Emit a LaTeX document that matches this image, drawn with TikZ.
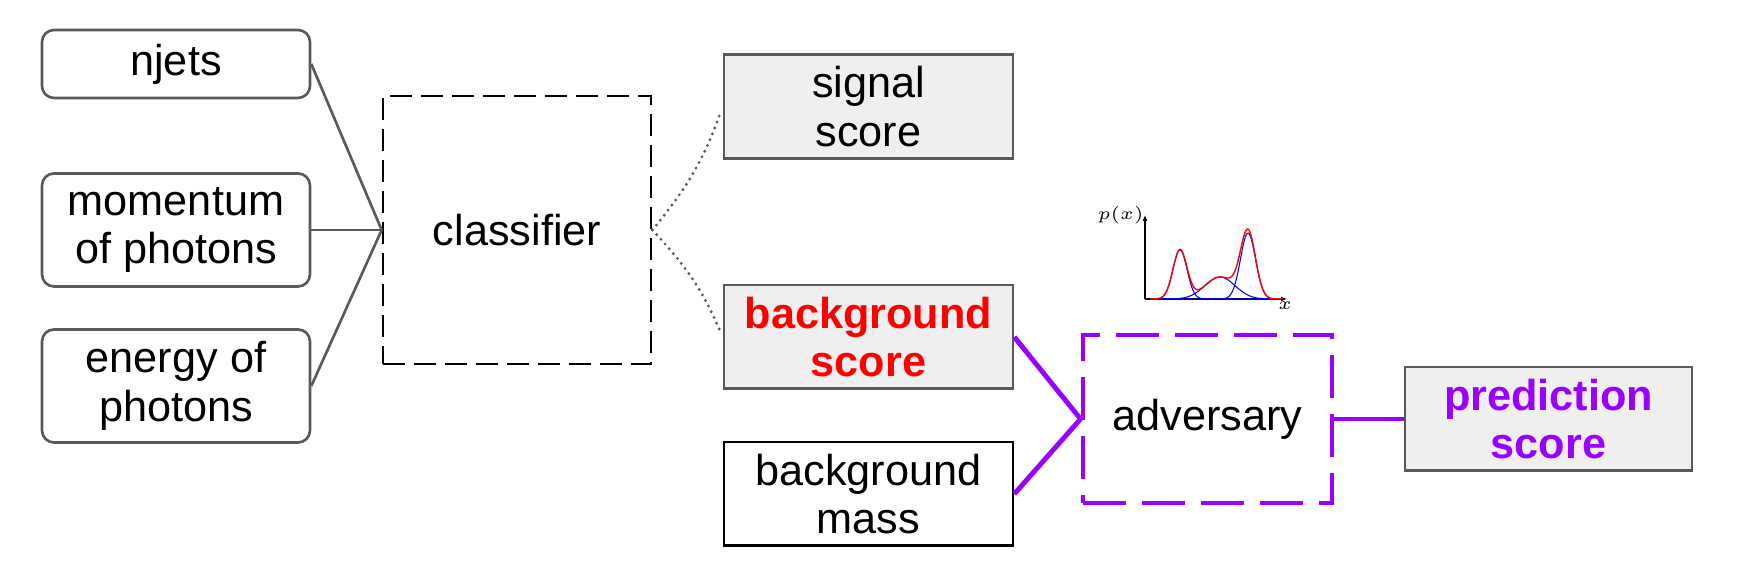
\documentclass[tikz,border=0pt]{standalone}
\usepackage{fontspec}
\setmainfont{Liberation Sans}
\usepackage{tikz}
\usepackage{xcolor}
\usetikzlibrary{positioning,arrows.meta,shapes}
\definecolor{advviolet}{HTML}{9900FF}
\definecolor{boxgray}{HTML}{EFEFEF}
\definecolor{linegray}{HTML}{595959}
\definecolor{mixblue}{HTML}{0000FF}
\definecolor{mixred}{HTML}{FF0000}
\tikzset{
    inputbox/.style={draw=linegray, line width=0.75pt, rounded corners=0.12cm, minimum width=2.68cm, align=center},
    scorebox/.style={draw=linegray, fill=boxgray, line width=0.75pt, minimum width=2.89cm, minimum height=1.01cm, align=center},
    massbox/.style={draw=black, line width=0.75pt, minimum width=2.89cm, minimum height=1.01cm, align=center},
    featline/.style={draw=linegray, line width=0.75pt},
    outline/.style={draw=linegray, line width=0.9pt, line cap=round, dash pattern=on 0pt off 1.8pt, shorten >=0.07cm},
    advline/.style={draw=advviolet, line width=1.4pt}
}
\begin{document}
\begin{tikzpicture}[font=\fontsize{12.3}{13.8}\selectfont]
    \useasboundingbox (0,0) rectangle (17.45,5.70);

    % Input features
    \node[inputbox, minimum height=0.68cm] (njets) at (1.76,5.06) {njets};
    \node[inputbox, minimum height=1.13cm] (mom) at (1.76,3.40) {momentum\\of photons};
    \node[inputbox, minimum height=1.13cm] (energy) at (1.76,1.84) {energy of\\photons};

    % Classifier
    \node[draw, line width=0.75pt, dash pattern=on 0.22cm off 0.09cm, minimum width=2.68cm, minimum height=2.68cm] (clf) at (5.17,3.40) {classifier};

    % Outputs of the classifier
    \node[scorebox] (sig) at (8.685,4.635) {signal\\score};
    \node[scorebox, text=red, font=\fontsize{12.3}{13.8}\selectfont\bfseries] (bkg) at (8.685,2.33) {background\\score};
    \node[massbox] (mass) at (8.685,0.76) {background\\mass};

    % Adversary
    \node[draw=advviolet, line width=1.4pt, dash pattern=on 0.43cm off 0.16cm, minimum width=2.49cm, minimum height=1.68cm] (adv) at (12.075,1.51) {adversary};
    \node[scorebox, text=advviolet, font=\fontsize{12.3}{13.8}\selectfont\bfseries, minimum width=2.87cm, minimum height=1.02cm] (pred) at (15.485,1.51) {prediction\\score};

    % Connections
    \draw[featline] (njets.east) -- (clf.west);
    \draw[featline] (mom.east) -- (clf.west);
    \draw[featline] (energy.east) -- (clf.west);
    \draw[outline] (clf.east) to[bend right=10] (sig.west);
    \draw[outline] (clf.east) to[bend left=10] (bkg.west);
    \draw[advline] (bkg.east) -- (adv.west);
    \draw[advline] (mass.east) -- (adv.west);
    \draw[advline] (adv.east) -- (pred.west);

    % Mixture density sketch
    \begin{scope}[shift={(11.45,2.71)}]
        \draw[line width=0.4pt, -{Latex[length=0.6mm,width=0.5mm]}] (0,0) -- (0,0.84);
        \draw[line width=0.4pt, -{Latex[length=0.6mm,width=0.5mm]}] (0,0) -- (1.42,0);
        \node[left, inner sep=0.2pt, font=\fontsize{3}{4}\selectfont] at (0,0.84) {$p(x)$};
        \node[below, inner sep=0.5pt, font=\fontsize{3}{4}\selectfont] at (1.40,0) {$x$};
        \draw[mixblue, line width=0.3pt] plot[domain=0.05:1.38, samples=90, smooth] (\x,{0.49*exp((\x-0.35)*(\x-0.35)/(-0.0098))});
        \draw[mixblue, line width=0.3pt] plot[domain=0.05:1.38, samples=90, smooth] (\x,{0.22*exp((\x-0.75)*(\x-0.75)/(-0.045))});
        \draw[mixblue, line width=0.3pt] plot[domain=0.05:1.38, samples=90, smooth] (\x,{0.66*exp((\x-1.03)*(\x-1.03)/(-0.01125))});
        \draw[mixred, line width=0.4pt] plot[domain=0.05:1.38, samples=120, smooth] (\x,{0.49*exp((\x-0.35)*(\x-0.35)/(-0.0098))+0.22*exp((\x-0.75)*(\x-0.75)/(-0.045))+0.66*exp((\x-1.03)*(\x-1.03)/(-0.01125))});
    \end{scope}
\end{tikzpicture}
\end{document}
